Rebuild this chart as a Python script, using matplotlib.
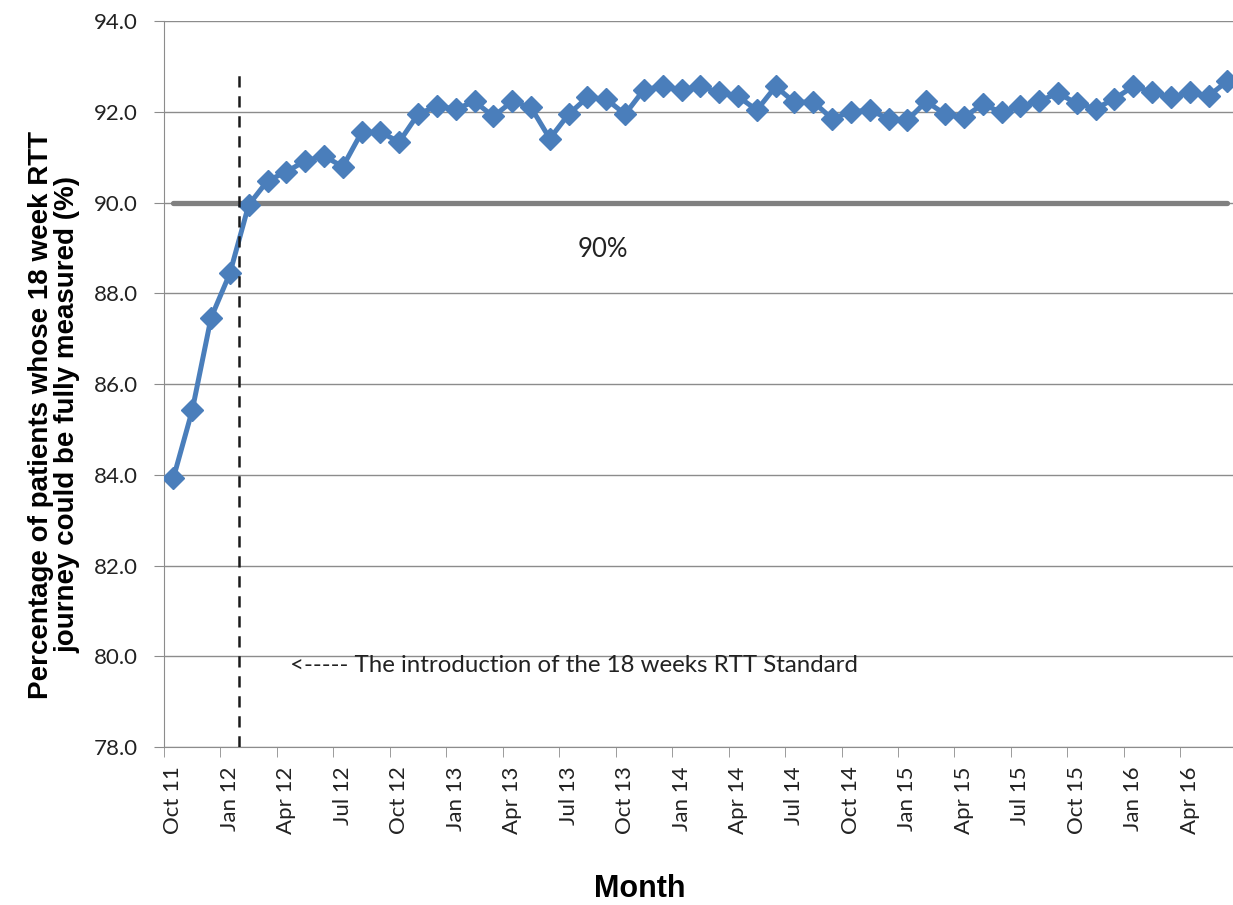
import matplotlib
matplotlib.use("Agg")
import matplotlib.pyplot as plt

# monthly values, Oct 11 .. Jun 16
values = [83.93, 85.42, 87.46, 88.44, 89.95, 90.48, 90.68, 90.92, 91.03, 90.79,
          91.55, 91.55, 91.34, 91.95, 92.13, 92.06, 92.23, 91.90, 92.23, 92.10,
          91.41, 91.95, 92.32, 92.28, 91.95, 92.49, 92.56, 92.49, 92.56, 92.43,
          92.34, 92.04, 92.56, 92.21, 92.22, 91.85, 92.00, 92.04, 91.85, 91.82,
          92.23, 91.95, 91.88, 92.17, 91.99, 92.12, 92.24, 92.41, 92.19, 92.07,
          92.29, 92.56, 92.44, 92.32, 92.43, 92.35, 92.68]
tick_labels = ["Oct 11", "Jan 12", "Apr 12", "Jul 12", "Oct 12", "Jan 13", "Apr 13",
               "Jul 13", "Oct 13", "Jan 14", "Apr 14", "Jul 14", "Oct 14", "Jan 15",
               "Apr 15", "Jul 15", "Oct 15", "Jan 16", "Apr 16"]
target = 90.0
intro_month = 3.5  # between Jan 12 and Feb 12

tick_font = "Lato"
title_font = "Liberation Sans"
grey = "#8c8c8c"

x = list(range(len(values)))

fig = plt.figure(figsize=(12.33, 9.05), dpi=100)
ax = fig.add_axes([0.133, 0.1746, 0.867, 0.802])

ax.plot([0, len(values) - 1], [target, target], color="#808080", lw=3.8,
        solid_capstyle="round", zorder=2)
ax.plot(x, values, color="#4a7ebb", lw=3.6, marker="D", markersize=11.5,
        markeredgecolor="#4a7ebb", zorder=4)
ax.plot([intro_month, intro_month], [78, 92.95], color="#1a1a1a", lw=1.8,
        linestyle=(0, (4.5, 3.5)), zorder=5)

ax.set_xlim(-0.5, 56.3)
ax.set_ylim(78, 94)
ax.set_yticks([78 + 2 * i for i in range(9)])
ax.set_yticklabels([f"{78 + 2 * i:.1f}" for i in range(9)],
                   fontsize=16, fontfamily=tick_font, color="#222222")
ax.yaxis.grid(True, color=grey, lw=1)
ax.set_axisbelow(True)

ax.set_xticks(list(range(0, len(values), 3)))
ax.set_xticklabels(tick_labels, rotation=90, fontsize=16, fontfamily=tick_font,
                   color="#222222")
ax.set_xticks([i - 0.5 for i in range(0, len(values), 3)], minor=True)
ax.tick_params(axis="x", which="major", length=0, pad=14)
ax.tick_params(axis="x", which="minor", length=7, color=grey, direction="out")
ax.tick_params(axis="y", length=7, color=grey, direction="out", pad=12)

for s in ["top", "right"]:
    ax.spines[s].set_visible(False)
for s in ["left", "bottom"]:
    ax.spines[s].set_color(grey)

ax.text(22.8, 88.97, "90%", fontsize=18.5, fontfamily=tick_font, color="#222222",
        ha="center", va="center")
ax.text(6.2, 79.8, "<----- The introduction of the 18 weeks RTT Standard",
        fontsize=17.3, fontfamily=tick_font, color="#222222", ha="left", va="center")

ax.set_ylabel("Percentage of patients whose 18 week RTT\njourney could be fully measured (%)",
              fontsize=20, fontweight="bold", fontfamily=title_font,
              linespacing=1.05)
ax.yaxis.set_label_coords(-0.078, 0.458)
fig.text(0.519, 0.0177, "Month", fontsize=22, fontweight="bold",
         fontfamily=title_font, ha="center", va="center")

fig.savefig("out.png", dpi=100)
